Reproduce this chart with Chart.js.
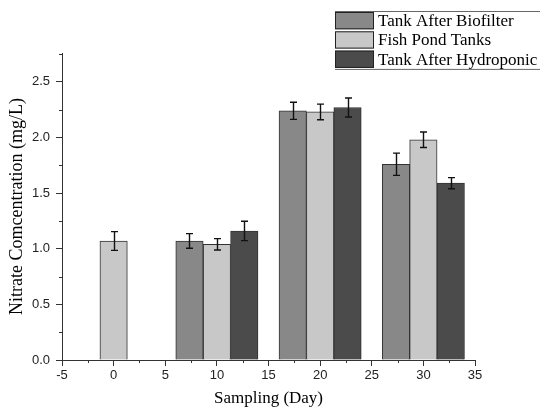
<!DOCTYPE html>
<html>
<head>
<meta charset="utf-8">
<script src="https://cdn.jsdelivr.net/npm/chart.js@4.4.0/dist/chart.umd.min.js"></script>
<style>
  html, body { margin: 0; padding: 0; background: #fff; }
  #wrap { width: 540px; height: 408px; }
</style>
</head>
<body>
<div id="wrap"><canvas id="nitrateChart" width="540" height="408"></canvas></div>
<script>
// sampling days and series
const days = [0, 10, 20, 30];
const seriesNames = ['Tank After Biofilter', 'Fish Pond Tanks', 'Tank After Hydroponic'];
const biofilter = [null, 1.07, 2.24, 1.76];
const fishPond = [1.07, 1.04, 2.23, 1.98];
const hydroponic = [null, 1.16, 2.27, 1.59];
const biofilterErr = [null, 0.066, 0.077, 0.10];
const fishPondErr = [0.084, 0.051, 0.07, 0.07];
const hydroponicErr = [null, 0.087, 0.085, 0.05];
const xTicks = [-5, 0, 5, 10, 15, 20, 25, 30, 35];
const yTicks = [0, 0.5, 1.0, 1.5, 2.0, 2.5];

const colors = ['#888888', '#c8c8c8', '#4b4b4b'];
const values = [biofilter, fishPond, hydroponic];
const errors = [biofilterErr, fishPondErr, hydroponicErr];

const serif = "'Liberation Serif', 'Times New Roman', serif";
const sans = "'Liberation Sans', Arial, sans-serif";

// error bars + minor ticks + legend box
const extras = {
  id: 'extras',
  afterDatasetsDraw(chart) {
    const ctx = chart.ctx;
    const yScale = chart.scales.y;
    ctx.save();
    ctx.strokeStyle = '#111';
    ctx.lineWidth = 1.4;
    chart.data.datasets.forEach((ds, i) => {
      const meta = chart.getDatasetMeta(i);
      meta.data.forEach((bar, j) => {
        const v = values[i][j];
        const e = errors[i][j];
        if (v == null || e == null) return;
        const x = Math.round(bar.x) + 0.5;
        const yHi = yScale.getPixelForValue(v + e);
        const yLo = yScale.getPixelForValue(v - e);
        ctx.beginPath();
        ctx.moveTo(x, yHi); ctx.lineTo(x, yLo);
        ctx.moveTo(x - 3.5, yHi); ctx.lineTo(x + 3.5, yHi);
        ctx.moveTo(x - 3.5, yLo); ctx.lineTo(x + 3.5, yLo);
        ctx.stroke();
      });
    });
    ctx.restore();
  },
  afterDraw(chart) {
    const ctx = chart.ctx;
    const { x, y } = chart.scales;
    const area = chart.chartArea;
    ctx.save();
    // minor ticks
    ctx.strokeStyle = '#333';
    ctx.lineWidth = 1;
    ctx.beginPath();
    for (let i = 0; i < xTicks.length - 1; i++) {
      const px = Math.round(x.getPixelForValue((xTicks[i] + xTicks[i + 1]) / 2)) + 0.5;
      ctx.moveTo(px, area.bottom); ctx.lineTo(px, area.bottom + 3);
    }
    for (let i = 0; i < yTicks.length; i++) {
      const py = Math.round(y.getPixelForValue(yTicks[i] + 0.25)) + 0.5;
      ctx.moveTo(area.left, py); ctx.lineTo(area.left - 3, py);
    }
    ctx.stroke();

    // legend (runs off the right edge like the original)
    const lx = 335, ly = 11, rowH = 19.3, sw = 39;
    ctx.strokeStyle = '#666';
    ctx.beginPath();
    ctx.moveTo(lx, ly + 0.5); ctx.lineTo(540, ly + 0.5);
    ctx.moveTo(lx, ly + rowH * 3 + 0.5); ctx.lineTo(540, ly + rowH * 3 + 0.5);
    ctx.stroke();
    ctx.font = '17px ' + serif;
    ctx.textBaseline = 'middle';
    seriesNames.forEach((name, i) => {
      const top = ly + i * rowH + 1;
      ctx.fillStyle = colors[i];
      ctx.fillRect(lx, top, sw, rowH - 2);
      ctx.strokeStyle = '#222';
      ctx.strokeRect(lx + 0.5, top + 0.5, sw - 1, rowH - 3);
      ctx.fillStyle = '#000';
      ctx.fillText(name, lx + sw + 4, top + rowH / 2);
    });
    ctx.restore();
  }
};

const datasets = seriesNames.map((name, i) => ({
  label: name,
  data: days.map((d, j) => ({ x: d, y: values[i][j] })),
  backgroundColor: colors[i],
  borderColor: '#333',
  borderWidth: 1,
  barThickness: 27.4
}));

new Chart(document.getElementById('nitrateChart'), {
  type: 'bar',
  data: { datasets },
  options: {
    responsive: false,
    animation: false,
    layout: { padding: { top: 53, right: 65, left: 0, bottom: 0 } },
    plugins: {
      legend: { display: false },
      tooltip: { enabled: false }
    },
    scales: {
      x: {
        type: 'linear',
        min: -5,
        max: 35,
        offset: false,
        afterBuildTicks: s => { s.ticks = xTicks.map(v => ({ value: v })); },
        afterFit: s => { s.height = 48; },
        grid: { display: true, drawOnChartArea: false, offset: false, tickLength: 6, color: '#333' },
        border: { display: true, color: '#333', width: 1 },
        ticks: {
          autoSkip: false, maxRotation: 0, padding: 2,
          color: '#222', font: { family: sans, size: 13 },
          callback: v => String(v)
        },
        title: {
          display: true, text: 'Sampling (Day)', color: '#000',
          font: { family: serif, size: 17, lineHeight: 1.1 },
          padding: { top: 0, bottom: 0 }
        }
      },
      y: {
        min: 0,
        max: 2.76,
        afterBuildTicks: s => { s.ticks = yTicks.map(v => ({ value: v })); },
        afterFit: s => { s.width = 62; },
        grid: { display: true, drawOnChartArea: false, tickLength: 6, color: '#333' },
        border: { display: true, color: '#333', width: 1 },
        ticks: {
          padding: 6,
          color: '#222', font: { family: sans, size: 13 },
          callback: v => Number(v).toFixed(1)
        },
        title: {
          display: true, text: 'Nitrate Comcentration (mg/L)', color: '#000',
          font: { family: serif, size: 18, lineHeight: 1.1 },
          padding: { top: 7, bottom: 0 }
        }
      }
    }
  },
  plugins: [extras]
});
</script>
</body>
</html>
